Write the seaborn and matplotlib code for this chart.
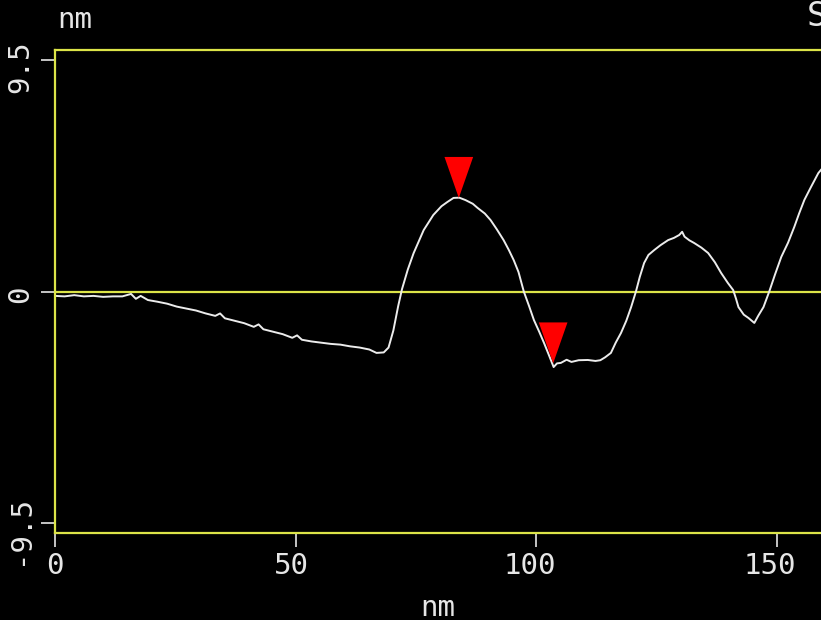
import numpy as np
import pandas as pd
import matplotlib
matplotlib.use("Agg")
import matplotlib.pyplot as plt
from matplotlib.path import Path
from matplotlib.transforms import ScaledTranslation
import seaborn as sns

# ---- data ----
pos_nm = [0.0, 2.0, 4.0, 6.0, 8.0, 10.0, 12.0, 14.0, 15.8, 16.8, 17.8, 19.3, 21.3, 23.3,
          25.3, 27.3, 29.3, 31.3, 33.3, 34.3, 35.3, 37.3, 39.3, 41.3, 42.3, 43.3, 45.3,
          47.3, 49.3, 50.3, 51.3, 53.3, 55.3, 57.3, 59.3, 61.3, 63.3, 65.3, 66.8, 68.3,
          69.3, 70.3, 71.3, 72.1, 73.3, 74.5, 76.6, 78.6, 80.3, 81.5, 82.8, 84.0, 85.3,
          86.8, 87.8, 89.3, 90.5, 91.8, 93.2, 94.3, 95.3, 96.3, 97.4, 98.5, 99.5, 100.6,
          101.6, 102.6, 103.6, 104.3, 105.1, 106.3, 107.3, 108.8, 110.7, 112.3, 113.3,
          114.3, 115.5, 116.5, 117.6, 118.7, 119.7, 120.7, 121.5, 122.4, 123.3, 124.5,
          125.8, 127.4, 128.6, 129.7, 130.3, 130.8, 131.8, 132.8, 134.3, 135.7, 137.1,
          138.4, 139.8, 140.9, 141.5, 142.0, 143.1, 144.1, 145.3, 146.1, 147.2, 148.4,
          149.6, 150.9, 152.3, 153.6, 154.6, 155.7, 157.1, 158.6, 159.6]
height_nm = [-0.18, -0.2, -0.15, -0.2, -0.18, -0.22, -0.2, -0.2, -0.1, -0.3, -0.18, -0.35,
             -0.42, -0.5, -0.62, -0.7, -0.78, -0.9, -1.0, -0.9, -1.1, -1.2, -1.3, -1.45,
             -1.35, -1.55, -1.65, -1.75, -1.9, -1.8, -1.98, -2.05, -2.1, -2.15, -2.18,
             -2.25, -2.3, -2.38, -2.52, -2.5, -2.3, -1.6, -0.6, 0.1, 0.9, 1.57, 2.52,
             3.14, 3.5, 3.67, 3.84, 3.85, 3.75, 3.6, 3.43, 3.2, 2.93, 2.55, 2.11, 1.7,
             1.29, 0.8, 0.0, -0.6, -1.17, -1.65, -2.11, -2.6, -3.1, -2.95, -2.93, -2.8,
             -2.89, -2.82, -2.81, -2.85, -2.82, -2.7, -2.52, -2.1, -1.7, -1.2, -0.64, 0.0,
             0.6, 1.17, 1.5, 1.7, 1.9, 2.11, 2.2, 2.32, 2.45, 2.25, 2.1, 1.99, 1.8, 1.58,
             1.2, 0.76, 0.35, 0.06, -0.3, -0.64, -0.95, -1.09, -1.29, -1.0, -0.64, 0.0,
             0.7, 1.42, 2.0, 2.65, 3.2, 3.76, 4.3, 4.86, 5.1]

cursor_x = [83.9, 103.5]
cursor_y = [3.84, -2.95]

x_ticks = [0, 50, 100, 150]
y_ticks = [-9.5, 0, 9.5]
y_tick_labels = ["-9.5", "0", "9.5"]

# ---- styling ----
sns.set_theme(style="dark")
plt.rcParams["font.family"] = ["DejaVu Sans Mono", "DejaVu Sans"]

YELLOW = "#dce448"
TEXT = "#e6e6e6"

fig = plt.figure(figsize=(8.21, 6.2), dpi=100, facecolor="black")
ax = fig.add_axes([55 / 821, 87 / 620, 1 - 55 / 821, 483 / 620])
ax.set_facecolor("black")

df = pd.DataFrame({"x": pos_nm, "y": height_nm})
sns.lineplot(data=df, x="x", y="y", ax=ax, color="#ececec", linewidth=1.4,
             sort=False, estimator=None)

ax.axhline(0, color=YELLOW, linewidth=1.6, zorder=1)

tri = Path([(-0.35, 1.0), (0.35, 1.0), (0.0, 0.0), (-0.35, 1.0)],
           [Path.MOVETO, Path.LINETO, Path.LINETO, Path.CLOSEPOLY])
cdf = pd.DataFrame({"x": cursor_x, "y": cursor_y})
sns.scatterplot(data=cdf, x="x", y="y", ax=ax, marker=tri, s=59 ** 2,
                color="#ff0000", edgecolor="none", linewidth=0, zorder=5)

ax.set_xlim(0, 159.15)
ax.set_ylim(-9.91, 9.91)

ax.set_xticks(x_ticks)
ax.set_xticklabels([str(v) for v in x_ticks])
ax.set_yticks(y_ticks)
ax.set_yticklabels(y_tick_labels, rotation=90, va="center")

ax.tick_params(axis="both", colors=TEXT, labelcolor=TEXT, labelsize=21,
               length=10, width=1.2, direction="out",
               bottom=True, left=True, top=False, right=False)
ax.tick_params(axis="y", pad=5)
ax.tick_params(axis="x", pad=4)

# small offsets matching the reference label placement
for lab, dy in zip(ax.get_yticklabels(), [-7, -3, -7]):
    lab.set_transform(lab.get_transform() + ScaledTranslation(0, dy / 100, fig.dpi_scale_trans))
for lab, dx in zip(ax.get_xticklabels(), [0, -4, -6, -7]):
    lab.set_transform(lab.get_transform() + ScaledTranslation(dx / 100, 0, fig.dpi_scale_trans))

for side in ["left", "top", "bottom"]:
    ax.spines[side].set_visible(True)
    ax.spines[side].set_color(YELLOW)
    ax.spines[side].set_linewidth(1.6)
ax.spines["right"].set_visible(False)
ax.grid(False)
ax.set_xlabel("")
ax.set_ylabel("")

fig.text(57 / 821, 1 - 28 / 620, "nm", color=TEXT, fontsize=21, ha="left", va="baseline")
fig.text(438 / 821, 1 - 616 / 620, "nm", color=TEXT, fontsize=21, ha="center", va="baseline")
fig.text(807 / 821, 1 - 26 / 620, "S", color=TEXT, fontsize=24, ha="left", va="baseline")

fig.savefig("out.png", dpi=100, facecolor="black")
